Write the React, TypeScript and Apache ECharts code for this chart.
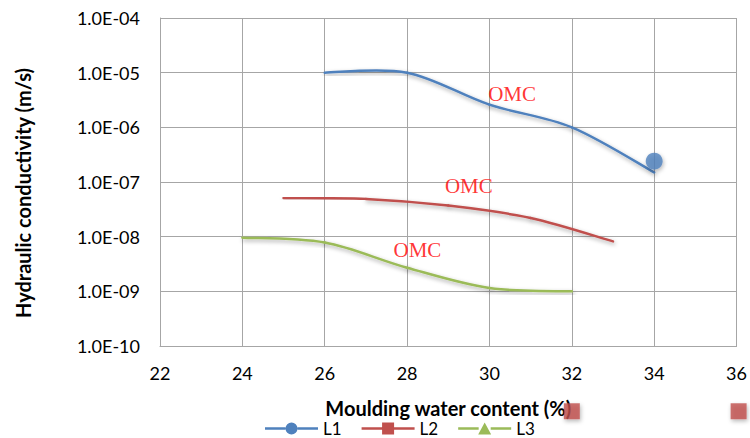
import React, { useEffect, useRef } from "react";
import * as echarts from "echarts";

const xTicks = [22, 24, 26, 28, 30, 32, 34, 36];
const l1Data: [number, number][] = [[26, 1e-5], [28, 1e-5], [30, 2.6e-6], [32, 1e-6], [34, 1.5e-7]];
const l2Data: [number, number][] = [[25, 5.1e-8], [27, 4.9e-8], [29, 3.7e-8], [31, 2.2e-8], [33, 8.2e-9]];
const l3Data: [number, number][] = [[24, 9.6e-9], [26, 7.8e-9], [28, 2.7e-9], [30, 1.15e-9], [32, 1.0e-9]];
const l1Marker: [number, number][] = [[34, 2.4e-7]];
const l2StrayMarkers: [number, number][] = [[32, 6.4e-12], [36.05, 6.4e-12]];
const omcPoints: [number, number][] = [[30.55, 4.0e-6], [29.5, 8.6e-8], [28.25, 5.6e-9]];

const FONT = "Lato";
const blue = "#4f81bd";
const red = "#c0504d";
const green = "#9bbb59";
const shadow = { shadowColor: "rgba(0,0,0,0.35)", shadowBlur: 4, shadowOffsetX: 1, shadowOffsetY: 2 };

const iconL1 = "path://M0,4.75H20.5V7.25H0Z M32.5,4.75H53V7.25H32.5Z M20.5,6A6,6 0 1,1 32.5,6A6,6 0 1,1 20.5,6Z";
const iconL2 = "path://M0,4.75H20.5V7.25H0Z M32.5,4.75H53V7.25H32.5Z M20.5,0H32.5V12H20.5Z";
const iconL3 = "path://M0,4.75H20.5V7.25H0Z M32.5,4.75H53V7.25H32.5Z M26.5,0L33,12L20,12Z";

function fmtExp(v: number) {
  const e = Math.round(Math.log10(v));
  const s = e < 0 ? "-" : "+";
  const a = Math.abs(e);
  return "1.0E" + s + (a < 10 ? "0" + a : "" + a);
}

function curveSeries(name: string, data: [number, number][], color: string) {
  return {
    name,
    type: "custom",
    data,
    encode: { x: 0, y: 1 },
    itemStyle: { color },
    clip: false,
    renderItem: (params: any, api: any) => {
      const i = params.dataIndex;
      const n = data.length;
      if (i >= n - 1) return null;
      const P = (k: number) => api.coord(data[Math.max(0, Math.min(n - 1, k))]);
      const p0 = P(i - 1), p1 = P(i), p2 = P(i + 1), p3 = P(i + 2);
      const t = 1 / 6;
      return {
        type: "bezierCurve",
        shape: {
          x1: p1[0], y1: p1[1], x2: p2[0], y2: p2[1],
          cpx1: p1[0] + (p2[0] - p0[0]) * t, cpy1: p1[1] + (p2[1] - p0[1]) * t,
          cpx2: p2[0] - (p3[0] - p1[0]) * t, cpy2: p2[1] - (p3[1] - p1[1]) * t,
        },
        style: { stroke: color, lineWidth: 2.5, fill: "none", lineCap: "round", ...shadow },
      };
    },
  };
}

export default function App() {
  const ref = useRef<HTMLDivElement>(null);
  useEffect(() => {
    if (!ref.current) return;
    const chart = echarts.init(ref.current, undefined, { renderer: "svg" });
    chart.setOption({
      animation: false,
      backgroundColor: "#ffffff",
      grid: { left: 160, right: 10, top: 18, bottom: 92, containLabel: false },
      xAxis: {
        type: "value",
        min: xTicks[0],
        max: xTicks[xTicks.length - 1],
        interval: 2,
        name: "Moulding water content (%)",
        nameLocation: "middle",
        nameGap: 53,
        nameTextStyle: { fontFamily: FONT, fontWeight: "bold", fontSize: 20, lineHeight: 18, color: "#000" },
        axisLine: { show: true, lineStyle: { color: "#a6a6a6", width: 1 } },
        axisTick: { show: false },
        axisLabel: { fontFamily: FONT, fontSize: 18, color: "#000", margin: 18 },
        splitLine: { show: true, lineStyle: { color: "#a6a6a6", width: 1 } },
      },
      yAxis: {
        type: "log",
        logBase: 10,
        min: 1e-10,
        max: 1e-4,
        name: "Hydraulic conductivity (m/s)",
        nameLocation: "middle",
        nameGap: 127,
        nameTextStyle: { fontFamily: FONT, fontWeight: "bold", fontSize: 20, color: "#000", padding: [0, 22, 0, 0] },
        axisLine: { show: true, lineStyle: { color: "#a6a6a6", width: 1 } },
        axisTick: { show: false },
        axisLabel: { fontFamily: FONT, fontSize: 18, color: "#000", margin: 20, formatter: (v: number) => fmtExp(v) },
        splitLine: { show: true, lineStyle: { color: "#a6a6a6", width: 1 } },
      },
      legend: {
        data: [
          { name: "L1", icon: iconL1 },
          { name: "L2", icon: iconL2 },
          { name: "L3", icon: iconL3 },
        ],
        left: 260,
        top: 415,
        itemWidth: 53,
        itemHeight: 12,
        itemGap: 20,
        textStyle: { fontFamily: FONT, fontSize: 17, color: "#000" },
      },
      series: [
        curveSeries("L1", l1Data, blue),
        curveSeries("L2", l2Data, red),
        curveSeries("L3", l3Data, green),
        {
          name: "L1 marker", type: "scatter", data: l1Marker, symbol: "circle", symbolSize: 17,
          itemStyle: { color: blue, ...shadow }, z: 5,
        },
        {
          name: "L2 markers", type: "scatter", data: l2StrayMarkers, symbol: "rect", symbolSize: 16,
          clip: false, itemStyle: { color: red, ...shadow }, z: 5,
        },
        {
          name: "OMC", type: "scatter", data: omcPoints, symbolSize: 1,
          itemStyle: { color: "rgba(0,0,0,0)" },
          label: {
            show: true, position: "inside", formatter: "OMC", color: "#ff0000",
            fontFamily: "Liberation Serif", fontSize: 21,
          },
          z: 6,
        },
      ],
    });
    return () => chart.dispose();
  }, []);
  return <div ref={ref} style={{ width: 750, height: 438, position: "absolute", left: 0, top: 0 }} />;
}
